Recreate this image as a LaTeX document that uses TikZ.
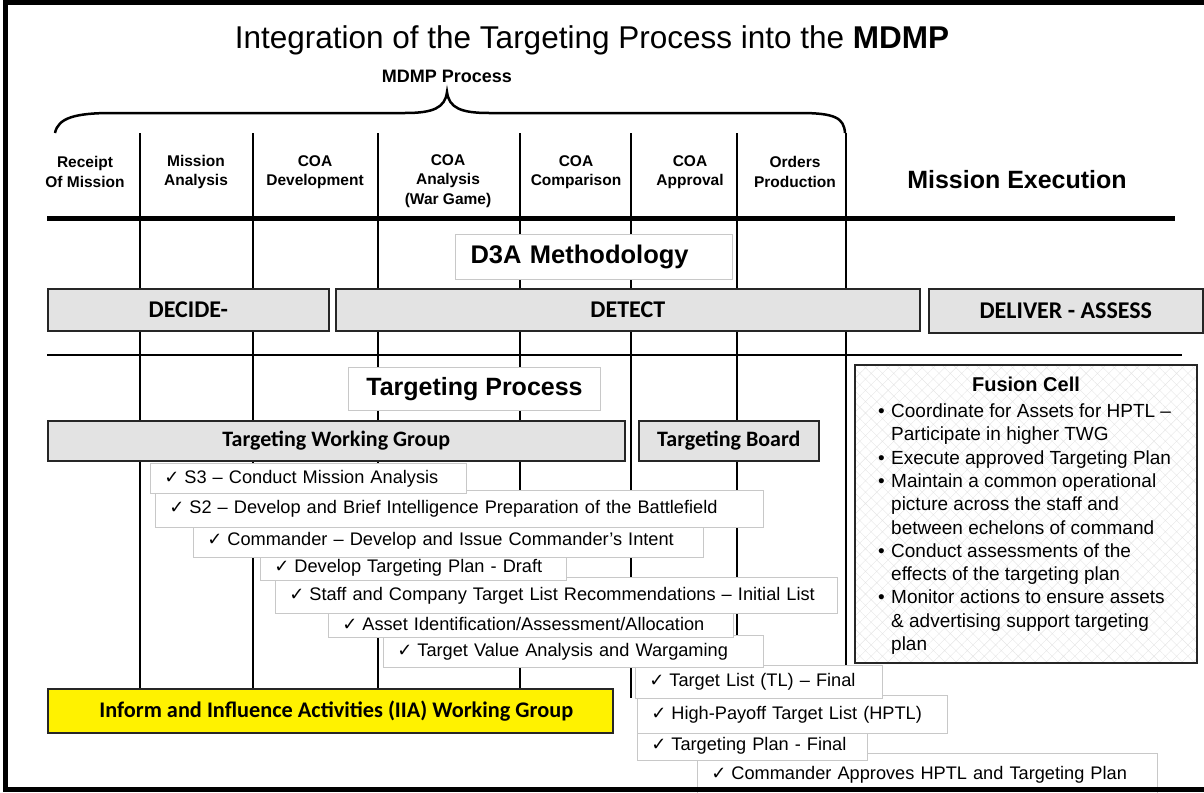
\documentclass[tikz,border=0pt]{standalone}
\usepackage{fontspec}
\setmainfont{Liberation Sans}
\newfontfamily\calibri{Carlito}
\newfontfamily\dejavu{DejaVu Sans}
\usetikzlibrary{patterns.meta}
\definecolor{barfill}{HTML}{E3E3E3}
\definecolor{boxline}{HTML}{C8C8C8}
\newcommand{\chkitem}[1]{\mbox{\makebox[14pt][l]{\dejavu\fontsize{18}{18}\selectfont ✓}\hspace{6pt}#1}}
\begin{document}
\begin{tikzpicture}[x=1pt,y=-1pt,
  rule/.style={line width=2.5pt},
  bar/.style={draw=black!85,line width=1.6pt,fill=barfill,anchor=north west,inner sep=0pt,font=\calibri\bfseries\fontsize{22}{24}\selectfont},
  label box/.style={draw=boxline,line width=1pt,fill=white,anchor=north west,inner sep=0pt,font=\bfseries\fontsize{24}{28}\selectfont},
  chkbox/.style={draw=boxline,line width=0.8pt,fill=white,anchor=north west,align=left,inner xsep=14pt,inner ysep=0pt,font=\fontsize{18.2}{22}\selectfont},
  phase/.style={align=center,font=\bfseries\fontsize{15.5}{19.5}\selectfont}]

  \useasboundingbox (0,0) rectangle (1204,792);

  % header
  \node[font=\fontsize{31.5}{36}\selectfont] (title) at (592,40) {Integration of the Targeting Process into the \textbf{MDMP}};
  \node[font=\bfseries\fontsize{18}{22}\selectfont] (mdmp) at (447,76) {MDMP Process};
  \coordinate (braceL) at (55,133);
  \coordinate (braceT) at (447,92);
  \coordinate (braceR) at (845,133);
  \draw[rule] (braceL) .. controls (58,118) and (75,113) .. (112,113) -- (405,113)
    .. controls (433,113) and (445,108) .. (braceT)
    .. controls (449,108) and (461,113) .. (489,113) -- (800,113)
    .. controls (835,113) and (844,118) .. (braceR);

  % MDMP steps
  \foreach \x/\b in {140/688,253/688,378/688,520/688,631/698,737/670,846/680}
    \draw[rule] (\x,133) -- (\x,\b);
  \node[phase] (p1) at (85,172) {Receipt\\Of Mission};
  \node[phase] (p2) at (196,172) {Mission\\Analysis};
  \node[phase] (p3) at (315,172) {COA\\Development};
  \node[phase] (p4) at (448,181) {COA\\Analysis\\(War Game)};
  \node[phase] (p5) at (576,172) {COA\\Comparison};
  \node[phase] (p6) at (690,172) {COA\\Approval};
  \node[phase] (p7) at (795,172) {Orders\\Production};
  \node[font=\bfseries\fontsize{25}{30}\selectfont] (exec) at (1017,180) {Mission Execution};
  \draw[line width=5pt] (47,218) -- (1175,218);

  % D3A
  \node[label box,minimum height=45,text width=247,align=left,inner xsep=15pt,font=\bfseries\fontsize{25.5}{29}\selectfont] (d3a) at (455,234) {\mbox{D3A Methodology}};
  \node[bar,minimum width=281,minimum height=42,font=\calibri\bfseries\fontsize{24}{26}\selectfont] (decide) at (47,288) {DECIDE-};
  \node[bar,minimum width=584,minimum height=42,font=\calibri\bfseries\fontsize{24}{26}\selectfont] (detect) at (335,288) {DETECT};
  \node[bar,minimum width=274,minimum height=44,font=\calibri\bfseries\fontsize{24}{26}\selectfont] (deliver) at (928,288) {DELIVER - ASSESS};
  \draw[rule] (47,355) -- (1182,355);

  % targeting process
  \node[label box,minimum width=252,minimum height=43,font=\bfseries\fontsize{25}{29}\selectfont] (tproc) at (348,367) {Targeting Process};
  \node[bar,minimum width=577,minimum height=40] (twg) at (47,420) {Targeting Working Group};
  \node[bar,minimum width=180,minimum height=40] (tboard) at (638,420) {Targeting Board};
  \node[bar,fill=yellow,minimum width=565,minimum height=44,font=\calibri\bfseries\fontsize{22.3}{24}\selectfont] (iia) at (47,688) {\hspace{12pt}Inform and Influence Activities (IIA) Working Group};

  % steps, lowest first so the upper ones lie on top
  \node[chkbox,text width=432,minimum height=42] (c11) at (697,753) {\chkitem{Commander Approves HPTL and Targeting Plan}};
  \node[chkbox,text width=202,minimum height=30] (c10) at (637,730) {\chkitem{Targeting Plan - Final}};
  \node[chkbox,text width=282,minimum height=38] (c9) at (637,695) {\chkitem{High-Payoff Target List (HPTL)}};
  \node[chkbox,text width=219,minimum height=33] (c8) at (635,665) {\chkitem{Target List (TL) -- Final}};
  \node[chkbox,text width=352,minimum height=32] (c7) at (383,635) {\chkitem{Target Value Analysis and Wargaming}};
  \node[chkbox,text width=377,minimum height=27] (c6) at (328,610) {\chkitem{Asset Identification/Assessment/Allocation}};
  \node[chkbox,text width=534,minimum height=36] (c5) at (275,577) {\chkitem{Staff and Company Target List Recommendations -- Initial List}};
  \node[chkbox,text width=278,minimum height=26] (c4) at (260,554) {\chkitem{Develop Targeting Plan - Draft}};
  \node[chkbox,text width=482,minimum height=33] (c3) at (193,524) {\chkitem{Commander -- Develop and Issue Commander's Intent}};
  \node[chkbox,text width=580,minimum height=37] (c2) at (155,490) {\chkitem{S2 -- Develop and Brief Intelligence Preparation of the Battlefield}};
  \node[chkbox,text width=288,minimum height=30] (c1) at (150,463) {\chkitem{S3 -- Conduct Mission Analysis}};

  % fusion cell
  \node[draw=black!85,line width=1.6pt,pattern={Hatch[angle=45,distance=8pt,line width=0.4pt]},pattern color=black!10,
    anchor=north west,minimum width=342,minimum height=298] (fusion) at (855,365) {};
  \node[font=\bfseries\fontsize{20}{24}\selectfont] (fushead) at (1026,384) {Fusion Cell};
  \node[anchor=north west,inner sep=0pt,font=\fontsize{19}{23.3}\selectfont] (fuslist) at (878,401) {%
    \begin{tabular}{@{}p{13pt}@{}l@{}}
    \textbullet & Coordinate for Assets for HPTL --\\
                & Participate in higher TWG\\
    \textbullet & Execute approved Targeting Plan\\
    \textbullet & Maintain a common operational\\
                & picture across the staff and\\
                & between echelons of command\\
    \textbullet & Conduct assessments of the\\
                & effects of the targeting plan\\
    \textbullet & Monitor actions to ensure assets\\
                & \& advertising support targeting\\
                & plan
    \end{tabular}};

  % frame
  \draw[line width=5pt] (1204,3) -- (5,3) -- (5,789) -- (1204,789);
\end{tikzpicture}
\end{document}
